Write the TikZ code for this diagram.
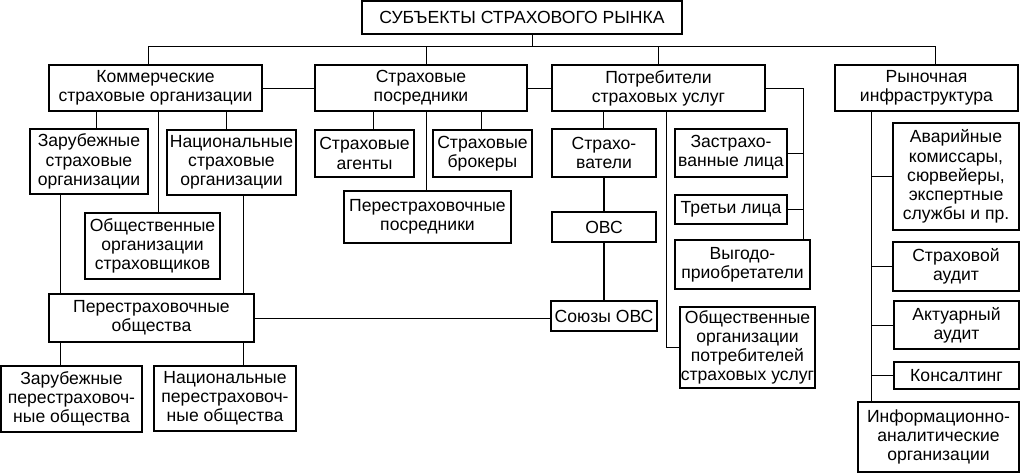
\documentclass[tikz,border=0pt]{standalone}
\usepackage{fontspec}
\setmainfont{Liberation Sans}
\usetikzlibrary{fit}

\tikzset{
  box/.style={draw, line width=0.9pt, inner sep=0pt},
  txt/.style={align=center, inner sep=0pt,
    font=\fontsize{12.5}{13.6}\selectfont},
  link/.style={line width=0.7pt},
  boldlink/.style={line width=1.3pt}
}
% box with its text in the middle
\newcommand{\bx}[4]{\node[box, fit={#2 #3}, label={[txt]center:#4}] (#1) {};}

\begin{document}
\begin{tikzpicture}[x=0.025cm, y=-0.025cm]
      \useasboundingbox (0,0) rectangle (1021,473);
      % Draw the top box
      \bx{title}{(362,1)}{(682,34)}{СУБЪЕКТЫ СТРАХОВОГО РЫНКА}
      % Draw the first row
      \bx{kom}{(49,65)}{(262,111)}{Коммерческие\\страховые организации}
      \bx{pos}{(315,65)}{(527,111)}{Страховые\\посредники}
      \bx{pot}{(552,65)}{(765,111)}{Потребители\\страховых услуг}
      \bx{ryn}{(835,65)}{(1018,111)}{Рыночная\\инфраструктура}
      % Insurers
      \bx{zso}{(30,129)}{(148,194)}{Зарубежные\\страховые\\организации}
      \bx{nso}{(167,130)}{(296,195)}{Национальные\\страховые\\организации}
      \bx{oos}{(85,213)}{(220,279)}{Общественные\\организации\\страховщиков}
      \bx{pob}{(49,294)}{(254,342)}{Перестраховочные\\общества}
      \bx{zpo}{(1,366)}{(142,432)}{Зарубежные\\перестраховоч-\\ные общества}
      \bx{npo}{(154,366)}{(296,431)}{Национальные\\перестраховоч-\\ные общества}
      % Intermediaries
      \bx{agn}{(315,130)}{(414,177)}{Страховые\\агенты}
      \bx{brk}{(433,130)}{(532,177)}{Страховые\\брокеры}
      \bx{ppo}{(344,191)}{(511,243)}{Перестраховочные\\посредники}
      % Consumers
      \bx{stv}{(552,129)}{(656,177)}{Страхо-\\ватели}
      \bx{ovs}{(552,212)}{(656,242)}{ОВС}
      \bx{sov}{(551,301)}{(657,331)}{Союзы ОВС}
      \bx{zal}{(675,129)}{(787,177)}{Застрахо-\\ванные лица}
      \bx{tre}{(675,195)}{(787,224)}{Третьи лица}
      \bx{vyg}{(675,240)}{(810,289)}{Выгодо-\\приобретатели}
      \bx{oop}{(680,307)}{(815,388)}{Общественные\\организации\\потребителей\\страховых услуг}
      % Infrastructure
      \bx{avr}{(893,123)}{(1019,230)}{Аварийные\\комиссары,\\сюрвейеры,\\экспертные\\службы и пр.}
      \bx{sau}{(893,242)}{(1019,291)}{Страховой\\аудит}
      \bx{aau}{(894,301)}{(1019,349)}{Актуарный\\аудит}
      \bx{kon}{(894,362)}{(1019,389)}{Консалтинг}
      \bx{inf}{(858,402)}{(1019,472)}{Информационно-\\аналитические\\организации}
      % Draw the bus under the title
      \coordinate (busl) at (148,46);
      \coordinate (busr) at (935,46);
      \draw[link] (kom.north -| busl) -- (busl) -- (busr) -- (ryn.north -| busr);
      \draw[link] (title.south -| 532,0) -- (532,46);
      \draw[link] (pos.north -| 426,0) -- (426,46);
      \draw[link] (pot.north) -- (pot.north |- busl);
      \draw[link] (kom.east) -- (pos.west);
      \draw[link] (pos.east) -- (pot.west);
      % Insurers links
      \draw[link] (kom.south -| 96,0) -- (zso.north -| 96,0);
      \draw[link] (kom.south -| 158,0) -- (oos.north -| 158,0);
      \draw[link] (kom.south -| 226,0) -- (nso.north -| 226,0);
      \draw[link] (zso.south -| 60,0) -- (pob.north -| 60,0);
      \draw[link] (nso.south -| 243,0) -- (pob.north -| 243,0);
      \draw[link] (pob.south -| 60,0) -- (zpo.north -| 60,0);
      \draw[link] (pob.south -| 243,0) -- (npo.north -| 243,0);
      \draw[link] (pob.east) -- (pob.east -| sov.west);
      % Intermediaries links
      \draw[link] (pos.south -| 373,0) -- (agn.north -| 373,0);
      \draw[link] (pos.south -| 426,0) -- (ppo.north -| 426,0);
      \draw[link] (pos.south -| 481,0) -- (brk.north -| 481,0);
      % Consumers links
      \draw[link] (pot.south -| 603,0) -- (stv.north -| 603,0);
      \draw[boldlink] (stv.south) -- (ovs.north);
      \draw[boldlink] (ovs.south) -- (sov.north);
      \draw[link] (pot.south -| 666,0) |- (oop.west);
      \draw[link] (pot.east) -| (vyg.north -| 803,0);
      \draw[link] (zal.east) -- (zal.east -| 803,0);
      \draw[link] (tre.east) -- (tre.east -| 803,0);
      % Infrastructure links
      \draw[link] (ryn.south -| 871,0) -- (inf.north -| 871,0);
      \draw[link] (avr.west) -- (avr.west -| 871,0);
      \draw[link] (sau.west) -- (sau.west -| 871,0);
      \draw[link] (aau.west) -- (aau.west -| 871,0);
      \draw[link] (kon.west) -- (kon.west -| 871,0);
\end{tikzpicture}
\end{document}
